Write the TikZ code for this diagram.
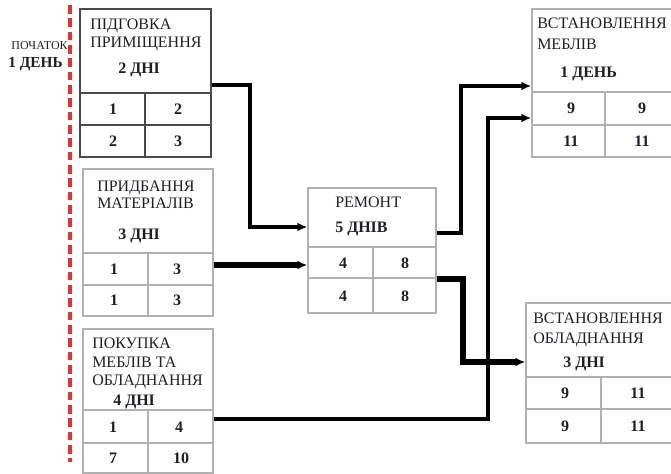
\documentclass[tikz,border=0pt]{standalone}
\usepackage{fontspec}
\setmainfont{Liberation Serif}
\usetikzlibrary{arrows.meta,fit}
\definecolor{txt}{HTML}{1E1E2A}
\definecolor{lgray}{HTML}{B0B0B0}
\definecolor{dgray}{HTML}{4A4A4A}
\definecolor{dred}{HTML}{E8302E}
\begin{document}
\begin{tikzpicture}[x=0.75pt,y=-0.75pt,
  box/.style={draw=lgray,line width=0.9pt,inner sep=0pt},
  darkbox/.style={draw=dgray,line width=1.5pt,inner sep=0pt},
  grid/.style={draw=lgray,line width=0.9pt},
  darkgrid/.style={draw=dgray,line width=1.5pt},
  ttl/.style={anchor=base west,inner sep=0pt,text=txt,font=\fontsize{12}{14}\selectfont},
  dur/.style={ttl,font=\fontsize{12}{14}\selectfont\bfseries},
  num/.style={anchor=center,inner sep=0pt,text=txt,font=\fontsize{12}{14}\selectfont\bfseries},
  conn/.style={draw=black,line join=miter,-{Latex[length=7.5pt,width=6.5pt]}}
]
\useasboundingbox (0,0) rectangle (671,474);

% start marker
\draw[dred,line width=2.4pt,dash pattern=on 6.5pt off 3.5pt] (70,5) -- (70,462);
\node[anchor=base east,inner sep=0pt,text=txt,font=\fontsize{9}{10}\selectfont] (st1) at (68,50) {ПОЧАТОК};
\node[anchor=base east,inner sep=0pt,text=txt,font=\fontsize{11.5}{13}\selectfont\bfseries] (st2) at (63,68) {1 ДЕНЬ};

% box 1
\node[darkbox,fit={(80,9) (211,157)}] (b1) {};
\draw[darkgrid] (80,93) -- (211,93) (80,125) -- (211,125) (145,93) -- (145,157);
\node[ttl] (t1a) at (90,30) {ПІДГОВКА};
\node[ttl] (t1b) at (90,48) {ПРИМІЩЕННЯ};
\node[dur] (t1c) at (118,74) {2 ДНІ};
\node[num] (n1a) at (113,109) {1};
\node[num] (n1b) at (178,109) {2};
\node[num] (n1c) at (113,141) {2};
\node[num] (n1d) at (178,141) {3};

% box 2
\node[box,fit={(83,169) (213,316)}] (b2) {};
\draw[grid] (83,253) -- (213,253) (83,285) -- (213,285) (148,253) -- (148,316);
\node[ttl] (t2a) at (97,192) {ПРИДБАННЯ};
\node[ttl] (t2b) at (97,209) {МАТЕРІАЛІВ};
\node[dur] (t2c) at (118,239) {3 ДНІ};
\node[num] (n2a) at (114,269) {1};
\node[num] (n2b) at (177,269) {3};
\node[num] (n2c) at (114,300) {1};
\node[num] (n2d) at (177,300) {3};

% box 3
\node[box,fit={(83,329) (213,473)}] (b3) {};
\draw[grid] (83,410) -- (213,410) (83,443) -- (213,443) (148,410) -- (148,473);
\node[ttl] (t3a) at (92,348) {ПОКУПКА};
\node[ttl] (t3b) at (92,367) {МЕБЛІВ ТА};
\node[ttl] (t3c) at (92,385) {ОБЛАДНАННЯ};
\node[dur] (t3d) at (113,405) {4 ДНІ};
\node[num] (n3a) at (113,427) {1};
\node[num] (n3b) at (179,427) {4};
\node[num] (n3c) at (113,458) {7};
\node[num] (n3d) at (181,458) {10};

% box 4
\node[box,fit={(308,188) (436,313)}] (b4) {};
\draw[grid] (308,247) -- (436,247) (308,278) -- (436,278) (373,247) -- (373,313);
\node[ttl] (t4a) at (335,208) {РЕМОНТ};
\node[dur] (t4b) at (335,232) {5 ДНІВ};
\node[num] (n4a) at (343,263) {4};
\node[num] (n4b) at (405,263) {8};
\node[num] (n4c) at (343,296) {4};
\node[num] (n4d) at (405,296) {8};

% box 5
\node[box,fit={(532,9) (678,157)}] (b5) {};
\draw[grid] (532,92) -- (678,92) (532,125) -- (678,125) (605,92) -- (605,157);
\node[ttl] (t5a) at (537,29) {ВСТАНОВЛЕННЯ};
\node[ttl] (t5b) at (537,50) {МЕБЛІВ};
\node[dur] (t5c) at (560,78) {1 ДЕНЬ};
\node[num] (n5a) at (571,108) {9};
\node[num] (n5b) at (642,108) {9};
\node[num] (n5c) at (571,141) {11};
\node[num] (n5d) at (642,141) {11};

% box 6
\node[box,fit={(526,303) (676,443)}] (b6) {};
\draw[grid] (526,377) -- (676,377) (526,409) -- (676,409) (601,377) -- (601,443);
\node[ttl] (t6a) at (533,323) {ВСТАНОВЛЕННЯ};
\node[ttl] (t6b) at (533,343) {ОБЛАДНАННЯ};
\node[dur] (t6c) at (563,367) {3 ДНІ};
\node[num] (n6a) at (565,393) {9};
\node[num] (n6b) at (638,393) {11};
\node[num] (n6c) at (565,426) {9};
\node[num] (n6d) at (638,426) {11};

% connectors
\draw[conn,line width=2.6pt] (b1.east |- 0,85) -- (250,85) -- (250,227) -- (b4.west |- 0,227);
\draw[conn,line width=3.8pt] (b2.east |- 0,265) -- (b4.west |- 0,265);
\draw[conn,line width=2.6pt] (b4.east |- 0,233) -- (461,233) -- (461,86) -- (b5.west |- 0,86);
\draw[conn,line width=4.2pt] (b4.east |- 0,279) -- (463,279) -- (463,362) -- (b6.west |- 0,362);
\draw[conn,line width=2.5pt] (b3.east |- 0,419) -- (488,419) -- (488,118) -- (b5.west |- 0,118);
\end{tikzpicture}
\end{document}
